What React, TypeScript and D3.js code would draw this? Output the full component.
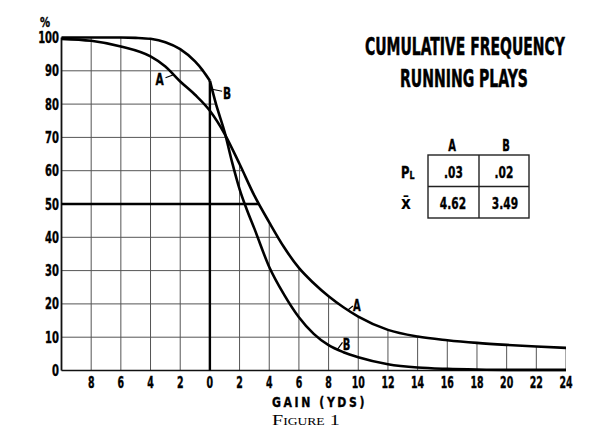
import React, { useLayoutEffect, useRef, useState } from "react";
import * as d3 from "d3";

// ---- data ----
const gainA = [-10, -8, -6, -4, -3, -2, -1, 0, 1, 2, 3, 4, 5, 6, 7, 8, 9, 10, 12, 14, 16, 18, 20, 22, 24];
const pctA = [99.6, 99.0, 97.3, 94.3, 91.3, 86.8, 82.8, 78, 71, 62, 52.5, 44.5, 37, 30.8, 26.2, 22.3, 19, 16.2, 12.2, 10.2, 9.1, 8.3, 7.7, 7.2, 6.8];
const gainB = [-10, -8, -6, -5, -4, -3, -2, -1, -0.5, 0, 0.4, 1, 1.5, 2, 2.5, 3, 4, 5, 6, 7, 8, 9, 10, 12, 14, 16, 18, 20, 22, 24];
const pctB = [100, 100, 100, 99.9, 99.6, 98.6, 96.5, 92.8, 90.2, 87, 80.2, 71.5, 62.5, 54.5, 48.2, 42.6, 31.1, 22.8, 16, 11, 7.6, 5.5, 4, 1.9, 0.9, 0.5, 0.3, 0.2, 0.2, 0.2];
const xTicks = [-8, -6, -4, -2, 0, 2, 4, 6, 8, 10, 12, 14, 16, 18, 20, 22, 24];
const yTicks = [0, 10, 20, 30, 40, 50, 60, 70, 80, 90, 100];
const tableCols = ["A", "B"];
const pLValues = [".03", ".02"];
const meanValues = ["4.62", "3.49"];
const titleLines = ["CUMULATIVE FREQUENCY", "RUNNING PLAYS"];

const COND = "'DejaVu Sans Condensed', 'DejaVu Sans', sans-serif";

type CondProps = {
  x: number;
  y: number;
  size: number;
  children: React.ReactNode;
  anchor?: "start" | "middle" | "end";
  sx?: number;
  fitW?: number;
  weight?: number;
  family?: string;
  style?: React.CSSProperties;
  thick?: number;
};

function Cond({ x, y, size, children, anchor = "start", sx = 0.74, fitW, weight = 700, family = COND, style, thick = 0.35 }: CondProps) {
  const ref = useRef<SVGTextElement>(null);
  const [scale, setScale] = useState(sx);
  useLayoutEffect(() => {
    if (fitW && ref.current) {
      const w = ref.current.getComputedTextLength();
      if (w > 0) setScale(fitW / w);
    }
  }, [fitW]);
  return (
    <text
      ref={ref}
      transform={`translate(${x},${y}) scale(${scale},1)`}
      textAnchor={anchor}
      fontSize={size}
      fontFamily={family}
      fontWeight={weight}
      fill="#000"
      stroke={thick > 0 ? "#000" : "none"}
      strokeWidth={thick}
      style={style}
    >
      {children}
    </text>
  );
}

export default function App() {
  const W = 591, H = 442;
  const x = d3.scaleLinear().domain([-10, 24]).range([61.5, 566]);
  const y = d3.scaleLinear().domain([0, 100]).range([370.5, 37.5]);

  const A = gainA.map((g, i) => [g, pctA[i]] as [number, number]);
  const B = gainB.map((g, i) => [g, pctB[i]] as [number, number]);
  const Bleft = B.filter((d) => d[0] <= 0);
  const Bright = B.filter((d) => d[0] >= 0);

  const line = d3.line<[number, number]>().x((d) => x(d[0])).y((d) => y(d[1])).curve(d3.curveMonotoneX);
  const area = d3.area<[number, number]>().x((d) => x(d[0])).y0(y(0)).y1((d) => y(d[1])).curve(d3.curveMonotoneX);

  // median of A: where A crosses 50
  let medA = 0;
  for (let i = 0; i < A.length - 1; i++) {
    if (A[i][1] >= 50 && A[i + 1][1] < 50) {
      medA = A[i][0] + ((A[i][1] - 50) / (A[i][1] - A[i + 1][1])) * (A[i + 1][0] - A[i][0]);
    }
  }
  const b0 = pctB[gainB.indexOf(0)];
  const interp = (arr: [number, number][], g: number) =>
    d3.scaleLinear().domain(arr.map((d) => d[0])).range(arr.map((d) => d[1]))(g);

  const gridColor = "#555";

  // annotation anchors (data space)
  const aUp = [-2.45, interp(A, -2.45)];
  const bUp = [0.15, interp(B, 0.15)];
  const aLow = [9.3, interp(A, 9.3)];
  const bLow = [8.6, interp(B, 8.6)];

  return (
    <svg width={W} height={H} style={{ position: "absolute", left: 0, top: 0, background: "#fff" }}>
      <defs>
        <clipPath id="under">
          <path d={area(A) || ""} />
          <path d={area(B) || ""} />
        </clipPath>
      </defs>

      {/* grid */}
      <g clipPath="url(#under)" stroke={gridColor} strokeWidth={1} fill="none">
        {xTicks.map((t) => (
          <line key={"v" + t} x1={x(t)} x2={x(t)} y1={y(0)} y2={y(100)} />
        ))}
        {yTicks.filter((t) => t > 0 && t < 100).map((t) => (
          <line key={"h" + t} x1={x(-10)} x2={x(24)} y1={y(t)} y2={y(t)} />
        ))}
      </g>

      {/* axes */}
      <line x1={x(-10)} x2={x(-10)} y1={y(0)} y2={y(100)} stroke="#111" strokeWidth={1.8} />
      <line x1={x(-10)} x2={x(24)} y1={y(0)} y2={y(0)} stroke="#111" strokeWidth={1.6} />

      {/* median line and zero line */}
      <line x1={x(-10)} x2={x(medA)} y1={y(50)} y2={y(50)} stroke="#000" strokeWidth={2.6} />
      <line x1={x(0)} x2={x(0)} y1={y(0)} y2={y(b0)} stroke="#000" strokeWidth={2.4} />

      {/* curves */}
      <path d={line(A) || ""} fill="none" stroke="#000" strokeWidth={2.6} />
      <path d={line(Bleft) || ""} fill="none" stroke="#000" strokeWidth={2.6} />
      <path d={line(Bright) || ""} fill="none" stroke="#000" strokeWidth={2.6} />

      {/* curve labels */}
      <line x1={x(aUp[0])} y1={y(aUp[1])} x2={x(aUp[0]) - 8} y2={y(aUp[1]) + 3} stroke="#000" strokeWidth={1.2} />
      <Cond x={x(aUp[0]) - 14} y={y(aUp[1]) + 10} anchor="middle" size={16}>A</Cond>
      <line x1={x(bUp[0])} y1={y(bUp[1])} x2={x(bUp[0]) + 10} y2={y(bUp[1]) + 2} stroke="#000" strokeWidth={1.2} />
      <Cond x={x(bUp[0]) + 15} y={y(bUp[1]) + 10} anchor="middle" size={16}>B</Cond>
      <line x1={x(aLow[0])} y1={y(aLow[1])} x2={x(aLow[0]) + 5} y2={y(aLow[1]) - 4} stroke="#000" strokeWidth={1.2} />
      <Cond x={x(aLow[0]) + 9} y={y(aLow[1]) + 1} anchor="middle" size={15}>A</Cond>
      <line x1={x(bLow[0])} y1={y(bLow[1])} x2={x(bLow[0]) + 5} y2={y(bLow[1]) - 7} stroke="#000" strokeWidth={1.2} />
      <Cond x={x(bLow[0]) + 9} y={y(bLow[1]) + 1} anchor="middle" size={15}>B</Cond>

      {/* y tick labels */}
      {yTicks.map((t) => (
        <Cond key={"yl" + t} x={59} y={y(t) + 5.5} anchor="end" size={15}>{t}</Cond>
      ))}
      <Cond x={45} y={27} anchor="middle" size={14} sx={0.8}>%</Cond>

      {/* x tick labels */}
      {xTicks.map((t) => (
        <Cond key={"xl" + t} x={x(t)} y={387.5} anchor="middle" size={15} sx={0.7}>{Math.abs(t)}</Cond>
      ))}
      <Cond x={272} y={406.5} size={14} fitW={95} style={{ letterSpacing: "3px" }}>GAIN (YDS)</Cond>
      <Cond x={272} y={425} size={15} fitW={68} weight={400} thick={0} family="'Liberation Serif', 'DejaVu Serif', serif" style={{ fontVariant: "small-caps" }}>Figure 1</Cond>

      {/* title */}
      <Cond x={365} y={55} size={24} fitW={200} thick={0.5}>{titleLines[0]}</Cond>
      <Cond x={400} y={87} size={24} fitW={128} thick={0.5}>{titleLines[1]}</Cond>

      {/* table */}
      {tableCols.map((c, i) => (
        <Cond key={"tc" + c} x={[452, 506][i]} y={151} anchor="middle" size={15}>{c}</Cond>
      ))}
      <g stroke="#222" strokeWidth={1.4} fill="none">
        <rect x={428} y={155} width={101} height={63} />
        <line x1={479} x2={479} y1={155} y2={218} />
        <line x1={428} x2={529} y1={186.5} y2={186.5} />
      </g>
      <Cond x={401} y={178} size={16} sx={0.8}>P<tspan fontSize={11} dy={1}>L</tspan></Cond>
      <Cond x={401} y={209} size={17} sx={0.9} weight={700} thick={0} family="'DejaVu Sans', sans-serif">x̄</Cond>
      {pLValues.map((v, i) => (
        <Cond key={"p" + i} x={[453.5, 504][i]} y={178} anchor="middle" size={16}>{v}</Cond>
      ))}
      {meanValues.map((v, i) => (
        <Cond key={"m" + i} x={[453, 505][i]} y={208.5} anchor="middle" size={16}>{v}</Cond>
      ))}
    </svg>
  );
}
